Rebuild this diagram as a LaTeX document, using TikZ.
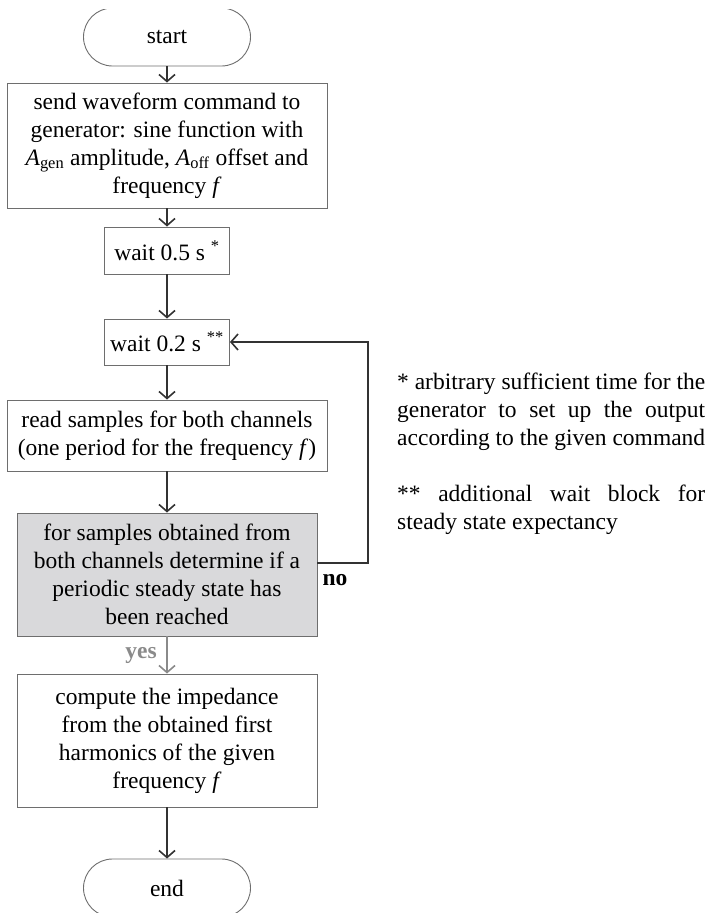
\documentclass[tikz,border=0pt]{standalone}
\usepackage{fontspec}
\setmainfont{Liberation Serif}
\usetikzlibrary{arrows.meta}
\definecolor{boxgray}{HTML}{6E6E6E}
\definecolor{linegray}{HTML}{333333}
\definecolor{fillgray}{HTML}{D9D9DB}
\definecolor{yesgray}{HTML}{8A8A8A}
\begin{document}
\begin{tikzpicture}[x=1pt,y=-1pt,
  every node/.style={font=\fontsize{23.5}{28}\selectfont, inner sep=0pt},
  blk/.style={draw=boxgray, line width=0.9pt, align=center},
  term/.style={draw=boxgray, line width=0.9pt, rounded corners=29pt, minimum width=167pt, minimum height=58pt},
  arr/.style={draw=linegray, line width=1.6pt, -{Straight Barb[length=7pt,width=16pt]}},
  yarr/.style={draw=yesgray, line width=1.6pt, -{Straight Barb[length=7pt,width=16pt]}},
]
\useasboundingbox (0,0) rectangle (710,913);
\begin{scope}
\clip (0,9.5) rectangle (710,913);
\node[term] (start) at (167,37) {start};
\end{scope}
\node[blk, minimum width=320pt, minimum height=125pt] (send) at (167,145.5)
  {send waveform command to\\ generator: sine function with\\ \textit{A}\textsubscript{gen} amplitude, \textit{A}\textsubscript{off} offset and\\ frequency \textit{f}};
\node[blk, minimum width=125pt, minimum height=47pt] (w1) at (167,250.5)
  {wait 0.5 s \textsuperscript{*}};
\node[blk, minimum width=125pt, minimum height=46pt] (w2) at (167,342)
  {wait 0.2 s \textsuperscript{**}};
\node[blk, minimum width=320pt, minimum height=71pt] (read) at (167,435.5)
  {read samples for both channels\\ (one period for the frequency \textit{f})};
\node[blk, fill=fillgray, minimum width=300pt, minimum height=123pt] (check) at (167,574.5)
  {for samples obtained from\\ both channels determine if a\\ periodic steady state has\\ been reached};
\node[blk, minimum width=300pt, minimum height=133pt] (comp) at (167,740.5)
  {compute the impedance\\ from the obtained first\\ harmonics of the given\\ frequency \textit{f}};
\begin{scope}
\clip (0,0) rectangle (710,913);
\node[term] (end) at (167,888) {end};
\end{scope}

\coordinate (lp) at (368,563);
\draw[arr] (start) -- (send);
\draw[arr] (send) -- (w1);
\draw[arr] (w1) -- (w2);
\draw[arr] (w2) -- (read);
\draw[arr] (read) -- (check);
\draw[yarr] (check) -- (comp);
\draw[arr] (comp) -- (end);
\draw[arr] ([yshift=11.5pt]check.east) -- (lp) |- (w2.east);

\node[font=\fontsize{23.5}{28}\selectfont\bfseries] (no) at (335,580) {no};
\node[font=\fontsize{23.5}{28}\selectfont\bfseries, text=yesgray] (yes) at (141,655) {yes};

\node[anchor=north west, align=left] (note) at (397,373)
  {\makebox[308pt][s]{* arbitrary sufficient time for the}\\
   \makebox[308pt][s]{generator to set up the output}\\
   \makebox[308pt][s]{according to the given command}\\[28pt]
   \makebox[308pt][s]{** additional wait block for}\\
   steady state expectancy};
\end{tikzpicture}
\end{document}
